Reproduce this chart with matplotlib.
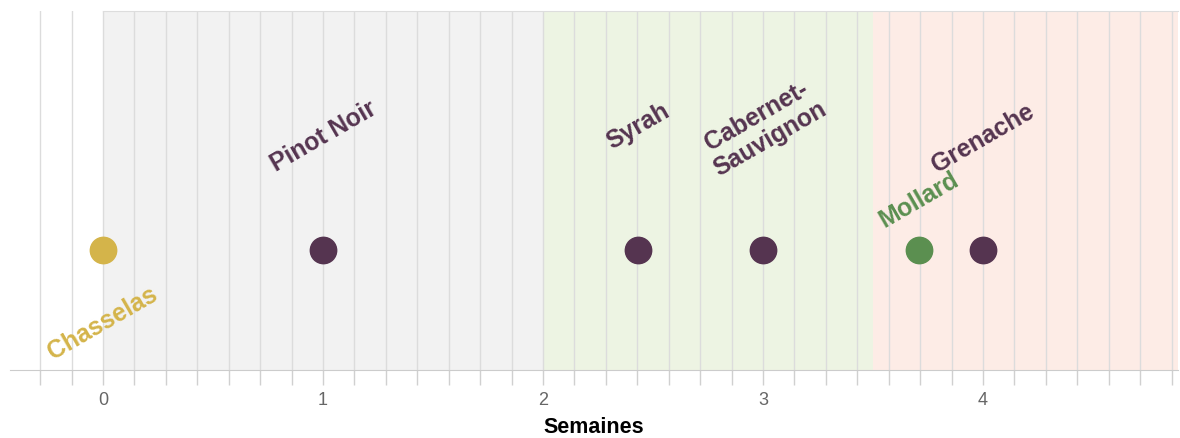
import matplotlib.pyplot as plt
from matplotlib.ticker import MultipleLocator

# cépages et semaine
cepages = ['Chasselas', 'Pinot Noir', 'Syrah', 'Cabernet-\nSauvignon', 'Mollard', 'Grenache']
semaines = [0, 1, 2.43, 3, 3.71, 4]
groupes = ['blanc', 'rouge', 'rouge', 'rouge', 'local', 'rouge']

# périodes de fond (début, fin)
periodes = [(0, 2), (2, 3.5), (3.5, 5)]
couleurs_periodes = ['#f2f2f2', '#edf4e3', '#fdece6']

couleurs = {'blanc': '#d4b44a', 'rouge': '#553450', 'local': '#5b8f50'}
# décalage vertical des étiquettes (points)
decalages = [-52, 83, 90, 89, 37, 81]

plt.rcParams['font.family'] = ['Liberation Sans', 'DejaVu Sans']

fig = plt.figure(figsize=(11.8, 4.39), dpi=100)
ax = fig.add_axes([10 / 1180, 1 - 371 / 439, 1168 / 1180, 359 / 439])

xmin, xmax = -0.4227, 4.886
ax.set_xlim(xmin, xmax)
ax.set_ylim(-1, 2)

for (a, b), c in zip(periodes, couleurs_periodes):
    ax.axvspan(a, min(b, xmax), color=c, lw=0, zorder=0)

ax.xaxis.set_major_locator(MultipleLocator(1))
ax.xaxis.set_minor_locator(MultipleLocator(1 / 7))
ax.grid(which='both', axis='x', color='#dcdcdc', lw=1, zorder=1)
ax.set_axisbelow(True)
ax.set_yticks([])
ax.tick_params(axis='x', which='both', length=11, color='#d0d0d0', width=1)
ax.tick_params(axis='x', which='major', labelsize=13, labelcolor='#666666', pad=4)

for s in ['left', 'right']:
    ax.spines[s].set_visible(False)
ax.spines['bottom'].set_color('#cccccc')
ax.spines['top'].set_color('#dddddd')
ax.spines['top'].set_bounds(0, xmax)

for nom, x, g, dy in zip(cepages, semaines, groupes, decalages):
    c = couleurs[g]
    ax.plot(x, 0, 'o', ms=19, color=c, zorder=3)
    ax.annotate(nom, (x, 0), xytext=(0, dy), textcoords='offset points',
                ha='center', va='center', rotation=30, color=c,
                fontsize=17.8, fontweight='bold', linespacing=1.15, zorder=4)

ax.set_xlabel('Semaines', fontsize=15.5, fontweight='bold', labelpad=6)

fig.savefig('out.png', dpi=100)
